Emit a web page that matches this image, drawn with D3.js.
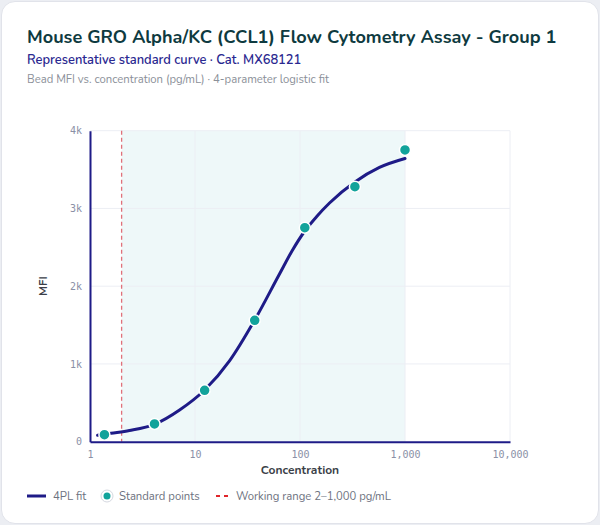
<!DOCTYPE html>
<html>
<head>
<meta charset="utf-8">
<script src="https://cdn.jsdelivr.net/npm/d3@7"></script>
<style>
  html, body { margin: 0; padding: 0; background: #eceef3; }
  body { width: 600px; height: 525px; overflow: hidden; }
  #card {
    position: absolute; left: 1px; top: 1px; width: 596px; height: 521px;
    background: #fff; border: 1px solid #e1e3ea; border-radius: 14px;
  }
  svg { position: absolute; left: 0; top: 0; }
</style>
</head>
<body>
<div id="card"></div>
<svg id="chart"></svg>
<script>
const width = 600;
const height = 525;

// standard points (3-fold dilution series)
const stdConc = [1.372, 4.115, 12.35, 37.04, 111.1, 333.3, 1000];
const stdMfi = [90, 228, 661, 1561, 2752, 3280, 3752];

// 4PL fit
const fitConc = [1.18, 1.585, 2.376, 4.115, 7.13, 12.35, 21.4, 37.04, 63.8, 83.9, 111.1, 144.3, 191, 333.3, 571, 1000];
const fitMfi = [82, 108, 144, 224, 408, 665, 1043, 1565, 2157, 2453, 2710, 2897, 3070, 3340, 3527, 3642];

const xTicks = [1, 10, 100, 1000, 10000];
const yTicks = [0, 1000, 2000, 3000, 4000];
const workingRange = [2, 1000];

const navy = "#1e1b87";
const teal = "#12a39b";
const font = "Nunito, Lato, 'Noto Sans', sans-serif";
const mono = "'DejaVu Sans Mono', monospace";

const svg = d3.select("#chart")
    .attr("width", width)
    .attr("height", height);

const x = d3.scaleLog().domain([1, 10000]).range([90, 510]);
const y = d3.scaleLinear().domain([0, 4000]).range([441.7, 130.7]);

// titles
svg.append("text").attr("x", 27).attr("y", 43)
    .attr("font-family", font).attr("font-weight", 700).attr("font-size", 18.1)
    .attr("fill", "#0e3a40")
    .text("Mouse GRO Alpha/KC (CCL1) Flow Cytometry Assay - Group 1");
svg.append("text").attr("x", 27).attr("y", 64)
    .attr("font-family", font).attr("font-weight", 600).attr("font-size", 12.9)
    .attr("fill", "#2a2890")
    .text("Representative standard curve · Cat. MX68121");
svg.append("text").attr("x", 27).attr("y", 83)
    .attr("font-family", font).attr("font-size", 11.3)
    .attr("fill", "#8b9099")
    .text("Bead MFI vs. concentration (pg/mL) · 4-parameter logistic fit");

// working range band
svg.append("rect")
    .attr("x", x(workingRange[0])).attr("y", y(4000))
    .attr("width", x(workingRange[1]) - x(workingRange[0]))
    .attr("height", y(0) - y(4000))
    .attr("fill", "#eef8f9");

// grid
svg.append("g").selectAll("line").data(xTicks.slice(1)).enter().append("line")
    .attr("x1", d => x(d)).attr("x2", d => x(d))
    .attr("y1", y(4000)).attr("y2", y(0))
    .attr("stroke", "#eceef4").attr("stroke-width", 1);
svg.append("g").selectAll("line").data(yTicks.slice(1)).enter().append("line")
    .attr("x1", x(1)).attr("x2", x(10000))
    .attr("y1", d => y(d)).attr("y2", d => y(d))
    .attr("stroke", "#eceef4").attr("stroke-width", 1);

// working range lower limit
svg.append("line")
    .attr("x1", x(workingRange[0])).attr("x2", x(workingRange[0]))
    .attr("y1", y(4000)).attr("y2", y(0))
    .attr("stroke", "#e0707a").attr("stroke-width", 1.3)
    .attr("stroke-dasharray", "4,3");

// axes
const xAxis = svg.append("g")
    .attr("transform", `translate(0,${y(0)})`)
    .call(d3.axisBottom(x).tickValues(xTicks).tickSize(0).tickPadding(9)
        .tickFormat(d3.format(",")));
const yAxis = svg.append("g")
    .attr("transform", `translate(${x(1)},0)`)
    .call(d3.axisLeft(y).tickValues(yTicks).tickSize(0).tickPadding(8)
        .tickFormat(d => d === 0 ? "0" : d / 1000 + "k"));
[xAxis, yAxis].forEach(a => {
    a.select(".domain").attr("stroke", navy).attr("stroke-width", 2);
    a.selectAll("text").attr("font-family", mono).attr("font-size", 10).attr("fill", "#8a90a6");
});

svg.append("text").attr("x", 300).attr("y", 474)
    .attr("text-anchor", "middle")
    .attr("font-family", font).attr("font-weight", 700).attr("font-size", 12)
    .attr("fill", "#3b3f48").text("Concentration");
svg.append("text")
    .attr("transform", `translate(47,${(y(0) + y(4000)) / 2}) rotate(-90)`)
    .attr("text-anchor", "middle")
    .attr("font-family", font).attr("font-weight", 700).attr("font-size", 11.5)
    .attr("fill", "#3b3f48").text("MFI");

// fit curve
const fit = fitConc.map((c, i) => [c, fitMfi[i]]);
svg.append("path")
    .datum(fit)
    .attr("fill", "none")
    .attr("stroke", navy).attr("stroke-width", 3).attr("stroke-linecap", "round")
    .attr("d", d3.line().x(d => x(d[0])).y(d => y(d[1])).curve(d3.curveMonotoneX));

// standard points
svg.append("g").selectAll("circle")
    .data(stdConc.map((c, i) => [c, stdMfi[i]]))
    .enter().append("circle")
    .attr("cx", d => x(d[0])).attr("cy", d => y(d[1]))
    .attr("r", 5.5)
    .attr("fill", teal).attr("stroke", "#fff").attr("stroke-width", 1.5);

// legend
const lg = svg.append("g").attr("font-family", font).attr("font-size", 11.3).attr("fill", "#6d7280");
lg.append("line").attr("x1", 27).attr("x2", 46).attr("y1", 496).attr("y2", 496)
    .attr("stroke", navy).attr("stroke-width", 3);
lg.append("text").attr("x", 53).attr("y", 500).text("4PL fit");
lg.append("circle").attr("cx", 107).attr("cy", 496).attr("r", 6)
    .attr("fill", "#fff").attr("stroke", "#d5d8e0").attr("stroke-width", 1);
lg.append("circle").attr("cx", 107).attr("cy", 496).attr("r", 3.5).attr("fill", teal);
lg.append("text").attr("x", 119).attr("y", 500).text("Standard points");
lg.append("line").attr("x1", 216).attr("x2", 230).attr("y1", 496).attr("y2", 496)
    .attr("stroke", "#e0262b").attr("stroke-width", 2).attr("stroke-dasharray", "4,4");
lg.append("text").attr("x", 236).attr("y", 500).text("Working range 2–1,000 pg/mL");
</script>
</body>
</html>
